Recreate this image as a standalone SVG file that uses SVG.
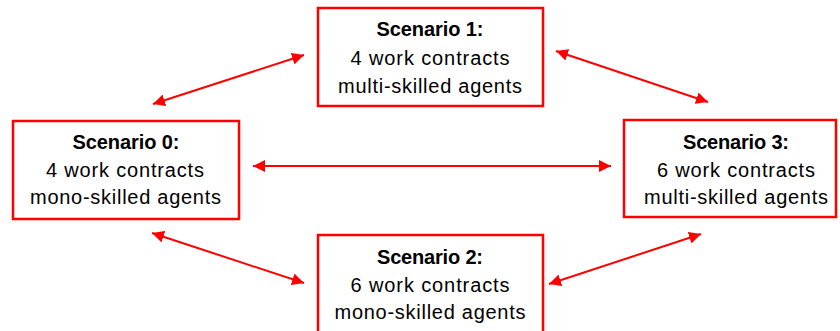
<svg xmlns="http://www.w3.org/2000/svg" width="840" height="331" viewBox="0 0 840 331">
<style>
.box{fill:#fff;stroke:#ff0000;stroke-width:2.5}
.t{font-family:"Liberation Sans",Arial,sans-serif;font-size:20px;fill:#000;text-anchor:middle}
.b{font-weight:bold}
.c{stroke:#ff0000;stroke-width:2;fill:none;marker-start:url(#ah);marker-end:url(#ah)}
</style>
<defs>
<marker id="ah" viewBox="0 0 10 10" refX="10" refY="5" markerWidth="6" markerHeight="6" orient="auto-start-reverse" markerUnits="strokeWidth">
<path d="M0,0 L10,5 L0,10 z" fill="#ff0000"/>
</marker>
</defs>
<rect width="840" height="331" fill="#fff"/>
<g id="connectors">
<line class="c" x1="153" y1="104" x2="304" y2="55"/>
<line class="c" x1="556" y1="51" x2="708" y2="102"/>
<line class="c" x1="253" y1="166" x2="611" y2="166"/>
<line class="c" x1="152" y1="233" x2="304" y2="283"/>
<line class="c" x1="549" y1="284" x2="701" y2="234"/>
</g>
<g id="scenario1">
<rect class="box" x="318" y="8" width="225" height="98"/>
<text class="t b" x="430" y="36" textLength="107" lengthAdjust="spacing">Scenario 1:</text>
<text class="t" x="430" y="65" textLength="159" lengthAdjust="spacing">4 work contracts</text>
<text class="t" x="430" y="93" textLength="184" lengthAdjust="spacing">multi-skilled agents</text>
</g>
<g id="scenario0">
<rect class="box" x="13" y="121" width="226" height="98"/>
<text class="t b" x="126" y="149" textLength="107" lengthAdjust="spacing">Scenario 0:</text>
<text class="t" x="125" y="177" textLength="158" lengthAdjust="spacing">4 work contracts</text>
<text class="t" x="125.5" y="204" textLength="191" lengthAdjust="spacing">mono-skilled agents</text>
</g>
<g id="scenario3">
<rect class="box" x="624" y="120" width="212" height="97"/>
<text class="t b" x="736" y="149" textLength="106" lengthAdjust="spacing">Scenario 3:</text>
<text class="t" x="736" y="177" textLength="158" lengthAdjust="spacing">6 work contracts</text>
<text class="t" x="736" y="204" textLength="184" lengthAdjust="spacing">multi-skilled agents</text>
</g>
<g id="scenario2">
<rect class="box" x="318" y="235" width="225" height="100"/>
<text class="t b" x="430" y="264" textLength="106" lengthAdjust="spacing">Scenario 2:</text>
<text class="t" x="430" y="292" textLength="159" lengthAdjust="spacing">6 work contracts</text>
<text class="t" x="430" y="319" textLength="191" lengthAdjust="spacing">mono-skilled agents</text>
</g>
</svg>
